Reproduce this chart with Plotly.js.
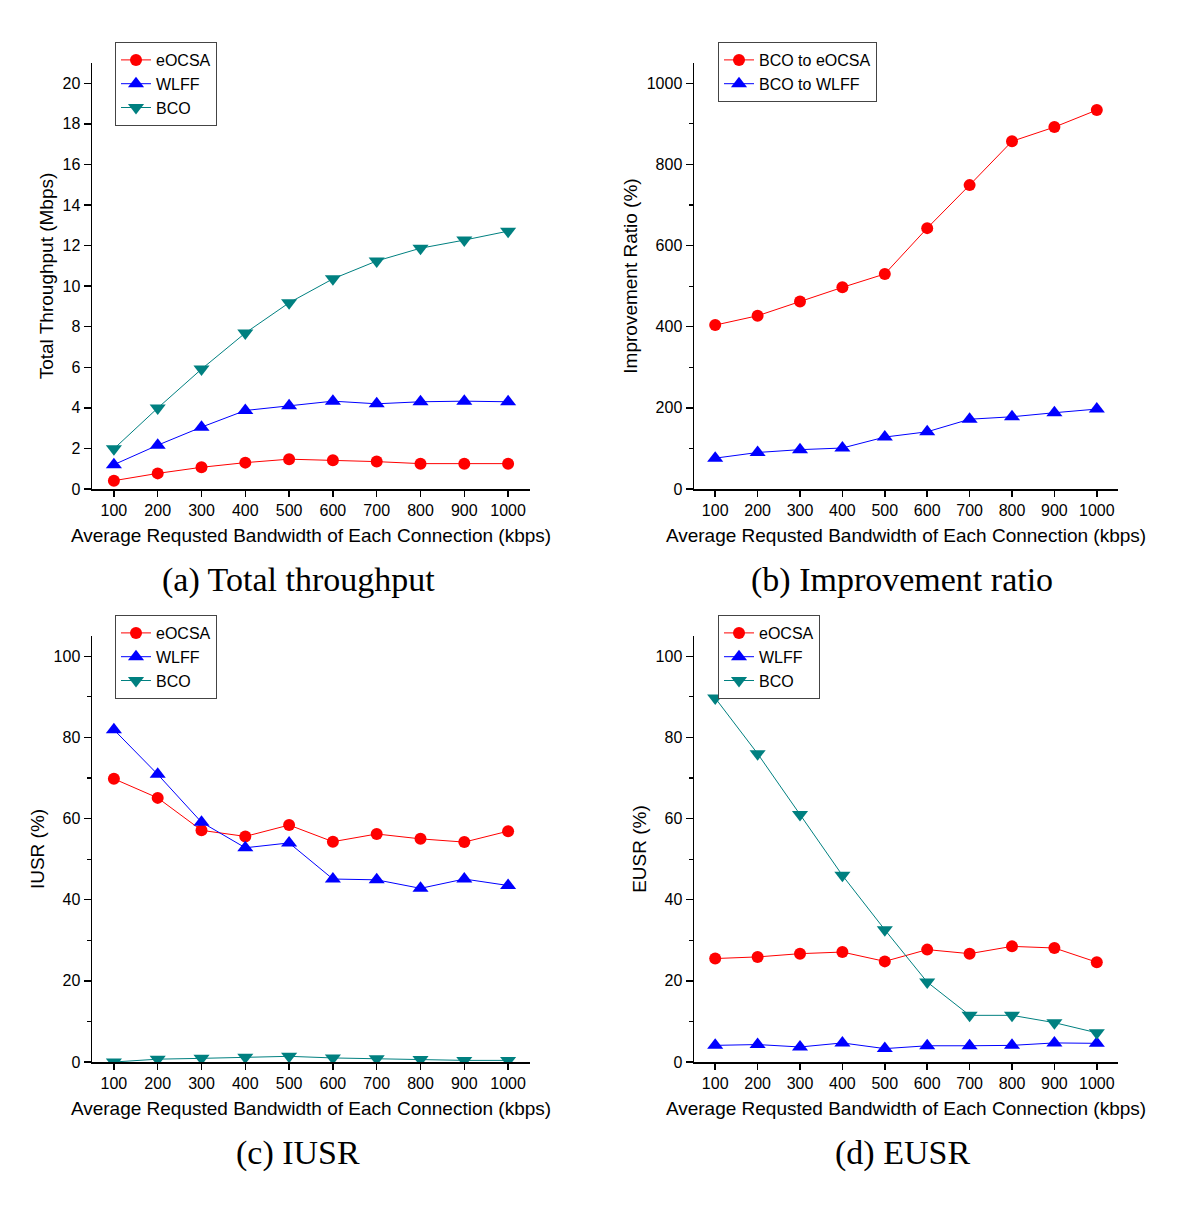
<!DOCTYPE html>
<html>
<head>
<meta charset="utf-8">
<script src="https://cdn.plot.ly/plotly-3.0.1.min.js"></script>
<style>html,body{margin:0;padding:0;background:#fff;}#chart{width:1200px;height:1212px;}</style>
</head>
<body>
<div id="chart"></div>
<script>
// ---- Data ----
const bandwidth = [100, 200, 300, 400, 500, 600, 700, 800, 900, 1000];

// (a) Total throughput (Mbps)
const thrEOCSA = [0.41, 0.77, 1.07, 1.30, 1.47, 1.42, 1.35, 1.25, 1.25, 1.25];
const thrWLFF  = [1.20, 2.16, 3.05, 3.87, 4.10, 4.33, 4.20, 4.30, 4.33, 4.30];
const thrBCO   = [1.98, 3.99, 5.91, 7.69, 9.18, 10.36, 11.24, 11.87, 12.27, 12.71];

// (b) Improvement ratio (%)
const impEOCSA = [404, 427, 462, 497, 530, 643, 749, 857, 892, 934];
const impWLFF  = [76, 90, 97, 101, 128, 141, 172, 178, 188, 197];

// (c) IUSR (%)
const iusrEOCSA = [69.8, 65.1, 57.1, 55.6, 58.4, 54.3, 56.2, 55.0, 54.2, 56.9];
const iusrWLFF  = [81.9, 70.9, 59.1, 52.8, 54.0, 45.1, 44.9, 42.8, 45.1, 43.5];
const iusrBCO   = [0.0, 0.7, 0.9, 1.2, 1.4, 1.0, 0.8, 0.6, 0.4, 0.4];

// (d) EUSR (%)
const eusrEOCSA = [25.5, 25.9, 26.7, 27.1, 24.8, 27.7, 26.7, 28.5, 28.1, 24.6];
const eusrWLFF  = [4.1, 4.3, 3.7, 4.7, 3.3, 4.0, 4.0, 4.1, 4.7, 4.6];
const eusrBCO   = [89.7, 76.0, 61.0, 46.0, 32.6, 19.7, 11.5, 11.5, 9.7, 7.2];

const xTitle = 'Average Requsted Bandwidth of Each Connection (kbps)';
const captions = ['(a) Total throughput', '(b) Improvement ratio', '(c) IUSR', '(d) EUSR'];

// ---- Styles ----
const RED = '#ff0000', BLUE = '#0000ff', TEAL = '#008080';
const FONT = 'Liberation Sans, Arial, sans-serif';

function tr(y, name, color, symbol, xa, ya, legend, size) {
  return {
    x: bandwidth, y: y, name: name, type: 'scatter', mode: 'lines+markers',
    xaxis: xa, yaxis: ya, legend: legend,
    line: {color: color, width: 1},
    marker: {color: color, symbol: symbol, size: size}
  };
}

const data = [
  tr(thrEOCSA, 'eOCSA', RED, 'circle', 'x', 'y', 'legend', 12),
  tr(thrWLFF, 'WLFF', BLUE, 'triangle-up', 'x', 'y', 'legend', 14),
  tr(thrBCO, 'BCO', TEAL, 'triangle-down', 'x', 'y', 'legend', 14),
  tr(impEOCSA, 'BCO to eOCSA', RED, 'circle', 'x2', 'y2', 'legend2', 12),
  tr(impWLFF, 'BCO to WLFF', BLUE, 'triangle-up', 'x2', 'y2', 'legend2', 14),
  tr(iusrEOCSA, 'eOCSA', RED, 'circle', 'x3', 'y3', 'legend3', 12),
  tr(iusrWLFF, 'WLFF', BLUE, 'triangle-up', 'x3', 'y3', 'legend3', 14),
  tr(iusrBCO, 'BCO', TEAL, 'triangle-down', 'x3', 'y3', 'legend3', 14),
  tr(eusrEOCSA, 'eOCSA', RED, 'circle', 'x4', 'y4', 'legend4', 12),
  tr(eusrWLFF, 'WLFF', BLUE, 'triangle-up', 'x4', 'y4', 'legend4', 14),
  tr(eusrBCO, 'BCO', TEAL, 'triangle-down', 'x4', 'y4', 'legend4', 14)
];

const W = 1200, H = 1212;
const px = v => v / W, py = v => 1 - v / H;

function xaxis(dom, anchor) {
  return {
    domain: dom, anchor: anchor, range: [50, 1050],
    tickmode: 'array', tickvals: bandwidth, ticktext: bandwidth.map(String),
    ticks: 'outside', ticklen: 6, tickwidth: 1.5, tickcolor: '#000',
    showline: true, linecolor: '#000', linewidth: 1.5, mirror: false,
    showgrid: false, zeroline: false,
    tickfont: {family: FONT, size: 16, color: '#000'},
    title: {text: xTitle, font: {family: FONT, size: 19, color: '#000'}, standoff: 11}
  };
}
function yaxis(dom, anchor, range, dtick, minorDtick, title) {
  const a = {
    domain: dom, anchor: anchor, range: range, dtick: dtick, tick0: 0,
    ticks: 'outside', ticklen: 7, tickwidth: 1.5, tickcolor: '#000',
    showline: true, linecolor: '#000', linewidth: 1.5, mirror: false,
    showgrid: false, zeroline: false,
    tickfont: {family: FONT, size: 16, color: '#000'},
    title: {text: title, font: {family: FONT, size: 19, color: '#000'}, standoff: 4}
  };
  if (minorDtick) a.minor = {dtick: minorDtick, ticks: 'outside', ticklen: 4, tickwidth: 1.2, tickcolor: '#000', showgrid: false};
  return a;
}
function legend(x, y) {
  return {
    x: px(x), y: py(y), xanchor: 'left', yanchor: 'top',
    bgcolor: '#fff', bordercolor: '#444', borderwidth: 1,
    font: {family: FONT, size: 16, color: '#000'},
    tracegroupgap: 0, itemwidth: 30
  };
}

const xdL = [px(92), px(530)], xdR = [px(694), px(1118)];
const ydT = [py(489), py(63)], ydB = [py(1062), py(636)];

const layout = {
  width: W, height: H,
  margin: {l: 0, r: 0, t: 0, b: 0},
  paper_bgcolor: '#fff', plot_bgcolor: '#fff',
  showlegend: true,
  xaxis: xaxis(xdL, 'y'),
  yaxis: yaxis(ydT, 'x', [0, 21], 2, null, 'Total Throughput (Mbps)'),
  xaxis2: xaxis(xdR, 'y2'),
  yaxis2: yaxis(ydT, 'x2', [0, 1050], 200, 100, 'Improvement Ratio (%)'),
  xaxis3: xaxis(xdL, 'y3'),
  yaxis3: yaxis(ydB, 'x3', [0, 105], 20, 10, 'IUSR (%)'),
  xaxis4: xaxis(xdR, 'y4'),
  yaxis4: yaxis(ydB, 'x4', [0, 105], 20, 10, 'EUSR (%)'),
  legend: legend(115, 42),
  legend2: legend(718, 42),
  legend3: legend(115, 615),
  legend4: legend(718, 615),
  annotations: [
    [298, 580, captions[0]], [902, 580, captions[1]],
    [298, 1153, captions[2]], [902, 1153, captions[3]]
  ].map(c => ({
    x: px(c[0]), y: py(c[1]), xref: 'paper', yref: 'paper',
    xanchor: 'center', yanchor: 'middle', showarrow: false, text: c[2],
    font: {family: 'Liberation Serif, Times New Roman, serif', size: 34, color: '#000'}
  }))
};

Plotly.newPlot('chart', data, layout, {displayModeBar: false, staticPlot: true});
</script>
</body>
</html>
